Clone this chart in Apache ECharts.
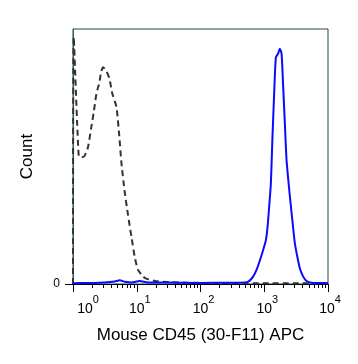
<!DOCTYPE html>
<html>
<head>
<meta charset="utf-8">
<script src="https://cdn.jsdelivr.net/npm/echarts@6/dist/echarts.min.js"></script>
<style>
html,body{margin:0;padding:0;background:#fff;}
#c{width:358px;height:364px;}
</style>
</head>
<body>
<div id="c"></div>
<script>
// Isotype control (dashed) - fluorescence intensity and normalized count
var isoX = [1, 1.026, 1.229, 1.37, 1.526, 1.72, 1.931, 2.113, 2.33, 2.597, 2.752, 2.958, 3.26, 3.728, 4.096, 4.8, 5.3, 5.75, 6.48, 7.3, 8.26, 9.3, 10.48, 12.56, 14.36, 19.2, 30, 60, 150, 400, 1000, 3000, 10000];
var isoY = [0, 96.9, 50.1, 49.7, 50.3, 53.7, 61.3, 67.3, 74.6, 79.1, 83.0, 85.0, 84.0, 80.6, 75.1, 69.4, 58.5, 47.5, 36.0, 27.0, 18.5, 10.6, 5.5, 2.9, 2.0, 1.2, 0.8, 0.5, 0.4, 0.3, 0.3, 0.3, 0.2];
// CD45 stained (blue)
var cd45X = [1, 1.83, 3.15, 4.52, 5.41, 6.48, 8.35, 11.1, 14.9, 33, 97.5, 288, 414, 559, 669, 757, 853, 961, 1060, 1127, 1194, 1270, 1340, 1430, 1520, 1652, 1757, 1870, 1982, 2106, 2239, 2533, 2843, 3023, 3308, 3623, 4080, 4615, 5526, 7465, 10000];
var cd45Y = [0.3, 0.4, 0.6, 1.0, 1.45, 0.9, 0.6, 1.2, 0.6, 0.6, 0.4, 0.5, 0.5, 0.9, 2.9, 5.5, 9.2, 13.3, 17.2, 22.4, 30.3, 39.4, 56.4, 74.6, 88.8, 90.4, 92.3, 90.3, 77.2, 62.9, 48.5, 34.0, 21.9, 15.9, 10.6, 6.1, 2.9, 1.2, 0.5, 0.4, 0.3];
// Axis ticks
var majorTicks = [1, 10, 100, 1000, 10000];
var tickExponents = ['0', '1', '2', '3', '4'];
var minorMultipliers = [2, 3, 4, 5, 6, 7, 8, 9];
var yTicks = [0];
var yTickLabels = ['0'];

function toLog(xs, ys) {
  return xs.map(function (x, i) { return [Math.log10(x), ys[i]]; });
}
var majorPos = majorTicks.map(function (v) { return Math.log10(v); });
var minorPos = [];
majorTicks.slice(0, -1).forEach(function (d) {
  minorMultipliers.forEach(function (m) { minorPos.push(Math.log10(d * m)); });
});

var chart = echarts.init(document.getElementById('c'));
var FONT = 'Liberation Sans, Arial, sans-serif';
chart.setOption({
  animation: false,
  grid: { left: 73, right: 30, top: 29, bottom: 80, show: true, borderColor: '#234646', borderWidth: 1, backgroundColor: 'transparent' },
  xAxis: [{
    type: 'value', min: 0, max: 4, position: 'bottom',
    name: 'Mouse CD45 (30-F11) APC', nameLocation: 'middle', nameGap: 43,
    nameTextStyle: { fontFamily: FONT, fontSize: 17, color: '#000' },
    axisLine: { show: true, lineStyle: { color: '#000', width: 1 } },
    axisTick: { show: true, length: 8, customValues: majorPos, lineStyle: { color: '#000' } },
    axisLabel: {
      show: true, margin: 10, customValues: majorPos,
      formatter: function (v) {
        var i = majorPos.indexOf(v);
        if (i < 0) { i = Math.round(v); }
        var e = tickExponents[i];
        if (i === 0) return '{f|10}{s|' + e + '}';
        if (i === tickExponents.length - 1) return '{b|10}{t|' + e + '}';
        return '{b|10}{s|' + e + '}';
      },
      rich: {
        b: { fontFamily: FONT, fontSize: 14, color: '#000', padding: [0, 0, 0, 6], lineHeight: 22, verticalAlign: 'bottom' },
        f: { fontFamily: FONT, fontSize: 14, color: '#000', padding: [0, 0, 0, 30], lineHeight: 22, verticalAlign: 'bottom' },
        s: { fontFamily: FONT, fontSize: 11, color: '#000', lineHeight: 22, verticalAlign: 'top' },
        t: { fontFamily: FONT, fontSize: 11, color: '#000', lineHeight: 22, verticalAlign: 'top', padding: [0, 2, 0, 0] }
      }
    },
    splitLine: { show: false }
  }, {
    type: 'value', min: 0, max: 4, position: 'bottom', offset: 0,
    axisLine: { show: false },
    axisTick: { show: true, length: 4, customValues: minorPos, lineStyle: { color: '#000' } },
    axisLabel: { show: false },
    splitLine: { show: false }
  }],
  yAxis: {
    type: 'value', min: 0, max: 100,
    name: 'Count', nameLocation: 'middle', nameGap: 37,
    nameTextStyle: { fontFamily: FONT, fontSize: 17, color: '#000' },
    axisLine: { show: true, lineStyle: { color: '#2f5f5f', width: 1 } },
    axisTick: { show: true, length: 8, customValues: yTicks, lineStyle: { color: '#000' } },
    axisLabel: {
      show: true, margin: 13, customValues: yTicks,
      formatter: function (v) { return yTickLabels[yTicks.indexOf(v)] || ''; },
      fontFamily: FONT, fontSize: 12, color: '#000', padding: [0, 0, 6, 0]
    },
    splitLine: { show: false }
  },
  series: [{
    type: 'line', xAxisIndex: 0, data: toLog(isoX, isoY), showSymbol: false, smooth: 0.2,
    lineStyle: { color: '#333333', width: 2, type: [6, 4] }, z: 2
  }, {
    type: 'line', xAxisIndex: 0, data: toLog(cd45X, cd45Y), showSymbol: false, smooth: 0.2,
    lineStyle: { color: '#0a0aff', width: 2 }, z: 3
  }]
});
</script>
</body>
</html>
